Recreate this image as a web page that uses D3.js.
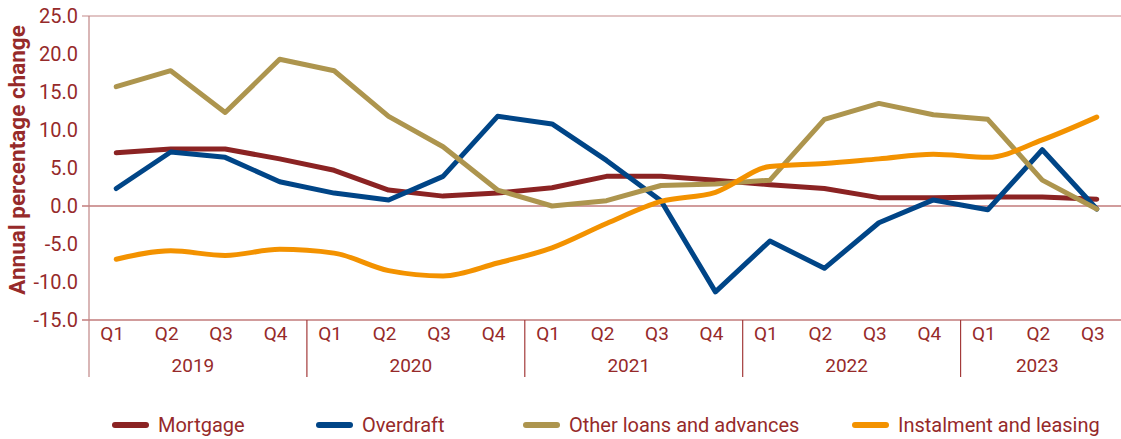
<!DOCTYPE html>
<html>
<head>
<meta charset="utf-8">
<script src="https://cdnjs.cloudflare.com/ajax/libs/d3/7.8.5/d3.min.js"></script>
<style>
  body { margin: 0; background: #fff; }
  svg { font-family: Roboto, "Noto Sans", sans-serif; }
</style>
</head>
<body>
<svg id="chart" width="1121" height="439"></svg>
<script>
// quarters and years along the bottom
const quarters = ["Q1","Q2","Q3","Q4","Q1","Q2","Q3","Q4","Q1","Q2","Q3","Q4","Q1","Q2","Q3","Q4","Q1","Q2","Q3"];
const years = ["2019","2020","2021","2022","2023"];
const yearSpan = [4, 4, 4, 4, 3];

const yTicks = [25, 20, 15, 10, 5, 0, -5, -10, -15];

// series values, annual % change
const mortgage    = [7.0, 7.5, 7.5, 6.2, 4.7, 2.1, 1.3, 1.7, 2.4, 3.9, 3.9, 3.4, 2.8, 2.3, 1.1, 1.1, 1.2, 1.2, 0.9];
const overdraft   = [2.3, 7.1, 6.4, 3.2, 1.7, 0.8, 3.9, 11.8, 10.8, 6.0, 0.7, -11.3, -4.6, -8.2, -2.2, 0.8, -0.5, 7.4, -0.4];
const otherLoans  = [15.7, 17.8, 12.3, 19.3, 17.8, 11.8, 7.8, 2.1, 0.0, 0.7, 2.7, 2.9, 3.4, 11.4, 13.5, 12.0, 11.4, 3.4, -0.4];
const instalment  = [-7.0, -5.9, -6.5, -5.7, -6.2, -8.5, -9.2, -7.5, -5.5, -2.3, 0.6, 1.8, 5.2, 5.6, 6.2, 6.8, 6.4, 8.7, 11.7];

const seriesNames = ["Mortgage", "Overdraft", "Other loans and advances", "Instalment and leasing"];
const seriesColors = ["#8b2323", "#004587", "#ad954e", "#f39200"];
const seriesData = [mortgage, overdraft, otherLoans, instalment];
const smooth = [false, false, false, true];

const textColor = "#962a2a";
const svg = d3.select("#chart");

const plotLeft = 89, plotRight = 1124, plotTop = 16, plotBottom = 320;

const x = d3.scaleBand()
    .domain(d3.range(quarters.length))
    .range([plotLeft, plotRight]);

const y = d3.scaleLinear()
    .domain([-15, 25])
    .range([plotBottom, plotTop]);

// horizontal lines at 25, 0 and -15
svg.selectAll("line.grid")
    .data([25, 0, -15])
    .enter()
    .append("line")
    .attr("class", "grid")
    .attr("x1", plotLeft - 7)
    .attr("x2", plotRight)
    .attr("y1", d => y(d))
    .attr("y2", d => y(d))
    .attr("stroke", d => d == 25 ? "#c48a8a" : "#a33a3a")
    .attr("stroke-width", 1.2);

// y axis labels
svg.selectAll("text.ytick")
    .data(yTicks)
    .enter()
    .append("text")
    .attr("class", "ytick")
    .attr("x", 78)
    .attr("y", d => y(d) + 7)
    .attr("text-anchor", "end")
    .attr("fill", textColor)
    .style("font-size", "20px")
    .text(d => d.toFixed(1));

// y axis line
svg.append("line")
    .attr("x1", plotLeft).attr("x2", plotLeft)
    .attr("y1", plotTop).attr("y2", 377)
    .attr("stroke", "#c08585")
    .attr("stroke-width", 1.2);

svg.append("text")
    .attr("transform", "translate(25," + 160 + ") rotate(-90)")
    .attr("text-anchor", "middle")
    .attr("fill", textColor)
    .style("font-size", "22.5px")
    .style("font-weight", "bold")
    .text("Annual percentage change");

// quarter labels
svg.selectAll("text.q")
    .data(quarters)
    .enter()
    .append("text")
    .attr("class", "q")
    .attr("x", (d, i) => x(i) + x.bandwidth() / 2 - 4)
    .attr("y", 340)
    .attr("text-anchor", "middle")
    .attr("fill", textColor)
    .style("font-size", "19px")
    .text(d => d);

// year labels and separators
let start = 0;
years.forEach((yr, k) => {
    const x0 = x(start);
    svg.append("text")
        .attr("x", (x0 + x(start + yearSpan[k] - 1) + x.bandwidth()) / 2 - 5)
        .attr("y", 372)
        .attr("text-anchor", "middle")
        .attr("fill", textColor)
        .style("font-size", "19px")
        .text(yr);
    if (k > 0) {
        svg.append("line")
            .attr("x1", x0).attr("x2", x0)
            .attr("y1", plotBottom).attr("y2", 377)
            .attr("stroke", "#a33a3a")
            .attr("stroke-width", 1.2);
    }
    start += yearSpan[k];
});

// the lines
seriesData.forEach((vals, s) => {
    const line = d3.line()
        .x((d, i) => x(i) + x.bandwidth() / 2)
        .y(d => y(d))
        .curve(smooth[s] ? d3.curveMonotoneX : d3.curveLinear);
    svg.append("path")
        .datum(vals)
        .attr("d", line)
        .attr("fill", "none")
        .attr("stroke", seriesColors[s])
        .attr("stroke-width", 5)
        .attr("stroke-linejoin", "round")
        .attr("stroke-linecap", "round");
});

// legend
const legendX = [113, 317, 524, 853];
seriesNames.forEach((name, s) => {
    const g = svg.append("g").attr("transform", "translate(" + legendX[s] + ",425)");
    g.append("line")
        .attr("x1", 2).attr("x2", 33)
        .attr("y1", 0).attr("y2", 0)
        .attr("stroke", seriesColors[s])
        .attr("stroke-width", 6)
        .attr("stroke-linecap", "round");
    g.append("text")
        .attr("x", 45)
        .attr("y", 7)
        .attr("fill", textColor)
        .style("font-size", "20px")
        .text(name);
});
</script>
</body>
</html>
